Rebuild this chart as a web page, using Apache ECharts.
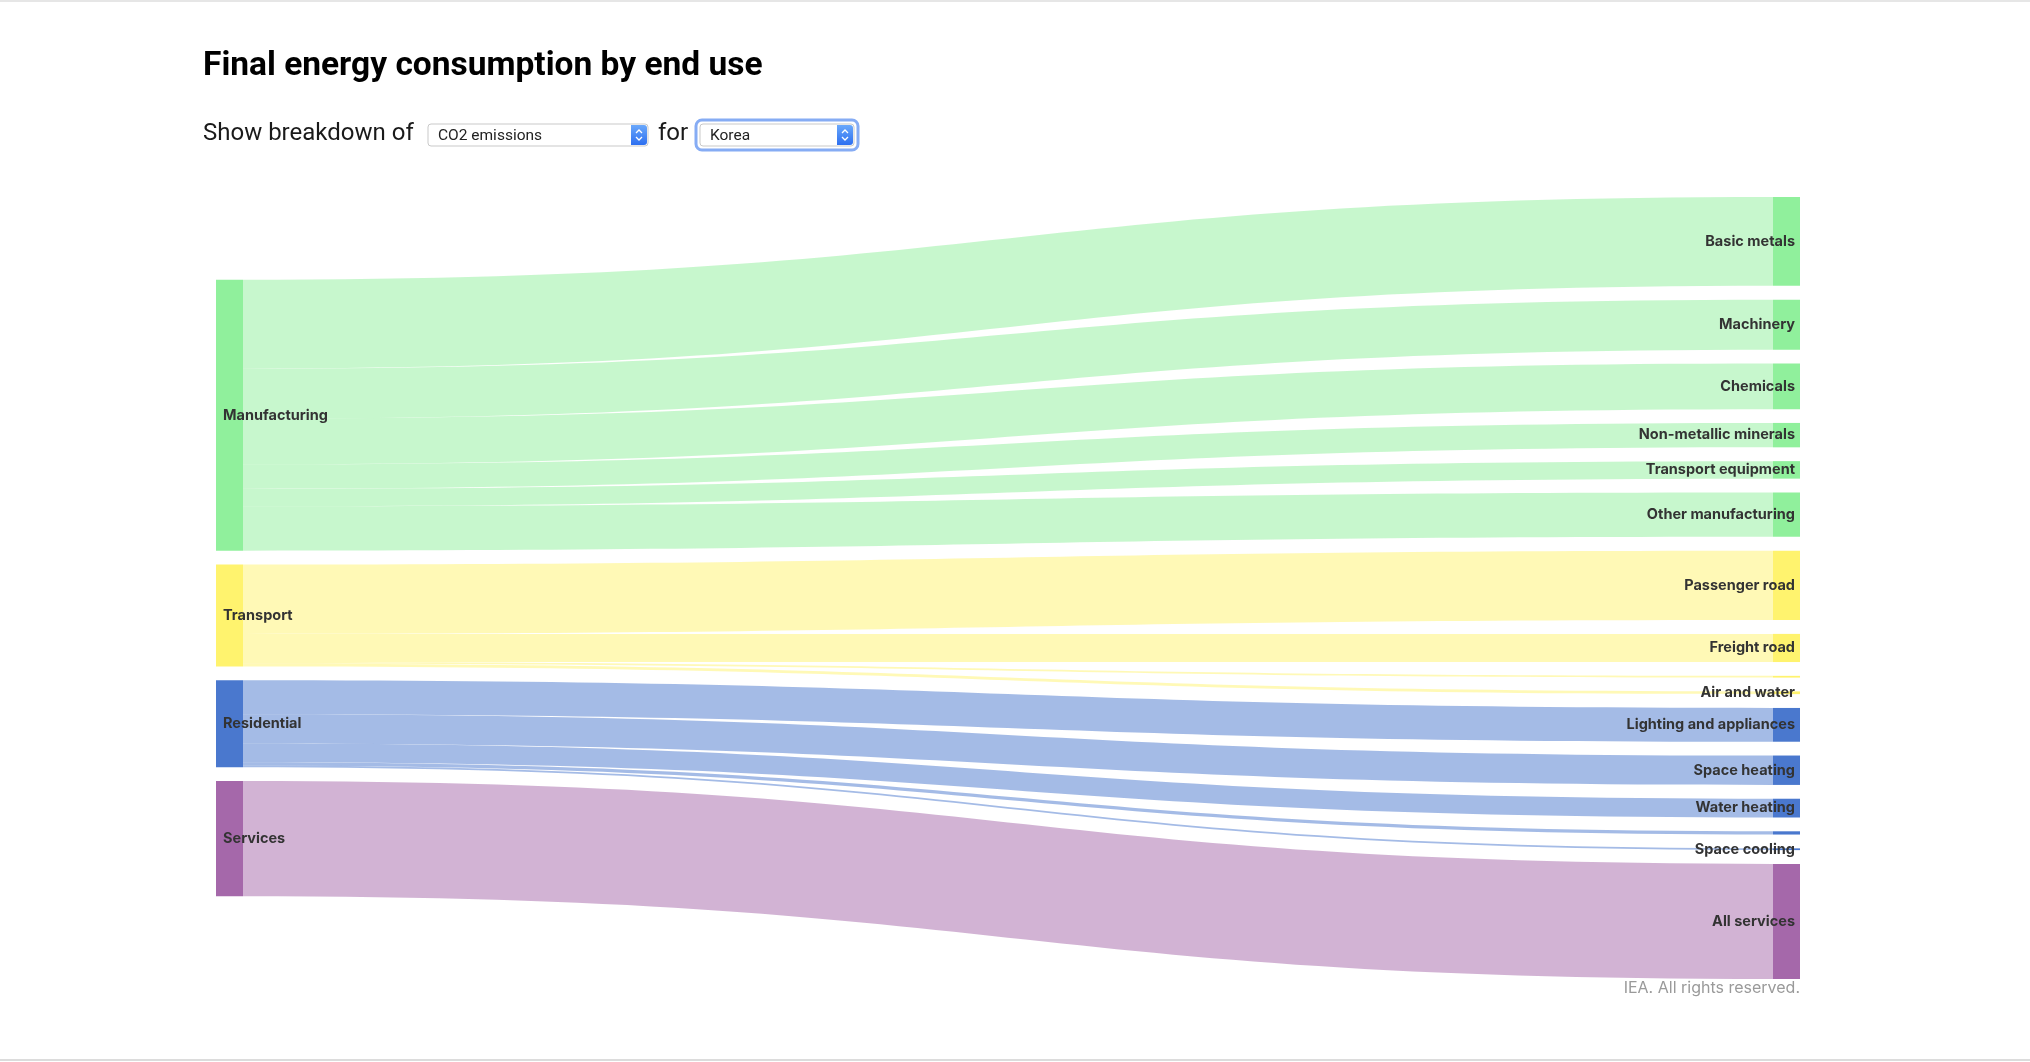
<!DOCTYPE html>
<html>
<head>
<meta charset="utf-8">
<script src="https://cdn.jsdelivr.net/npm/echarts@6/dist/echarts.min.js"></script>
<style>
html, body { margin: 0; padding: 0; background: #ffffff; }
#chart { width: 2030px; height: 1062px; }
</style>
</head>
<body>
<div id="chart"></div>
<script>
// ---- data (CO2 emissions by end use, Korea) ----
const sectors = ['Manufacturing', 'Transport', 'Residential', 'Services'];
const sectorColors = ['#90F09C', '#FFF36E', '#4A78CE', '#A568AA'];
const endUses = [
  'Basic metals', 'Machinery', 'Chemicals', 'Non-metallic minerals', 'Transport equipment', 'Other manufacturing',
  'Passenger road', 'Freight road', 'Rail', 'Air and water',
  'Lighting and appliances', 'Space heating', 'Water heating', 'Cooking', 'Space cooling',
  'All services'
];
const endUseSector = [
  'Manufacturing', 'Manufacturing', 'Manufacturing', 'Manufacturing', 'Manufacturing', 'Manufacturing',
  'Transport', 'Transport', 'Transport', 'Transport',
  'Residential', 'Residential', 'Residential', 'Residential', 'Residential',
  'Services'
];
const emissions = [71, 40, 36.5, 19.5, 14, 35.5, 55.5, 22.5, 1.4, 2.2, 27, 23.5, 15, 2.6, 1.4, 92];
const unlabeledEndUses = ['Rail', 'Cooking'];

const titleText = 'Final energy consumption by end use';
const breakdownText = 'Show breakdown of';
const measureText = 'CO2 emissions';
const forText = 'for';
const countryText = 'Korea';
const creditText = 'IEA. All rights reserved.';

// ---- layout ----
const W = 2030, H = 1062;
const L = { left: 216, right: 230, top: 197, bottom: 83, nodeWidth: 27, nodeGap: 13.8 };
const plotH = H - L.top - L.bottom;
const total = emissions.reduce((a, b) => a + b, 0);
const ky = (plotH - (endUses.length - 1) * L.nodeGap) / total;
// invisible spacer so the sector column is centred against the end-use column
const spacerValue = ((endUses.length - sectors.length) / 2 - 1) * L.nodeGap / ky;

const colorOf = {};
sectors.forEach((s, i) => { colorOf[s] = sectorColors[i]; });

const nodes = [{
  name: '__spacer', depth: 0, value: spacerValue,
  itemStyle: { color: 'rgba(0,0,0,0)', opacity: 0 },
  label: { show: false }, silent: true
}];
sectors.forEach(s => nodes.push({
  name: s, depth: 0, itemStyle: { color: colorOf[s] },
  label: { position: 'insideLeft', distance: 7 }
}));
endUses.forEach((u, i) => nodes.push({
  name: u, depth: 1, itemStyle: { color: colorOf[endUseSector[i]] },
  label: { show: unlabeledEndUses.indexOf(u) < 0, position: 'insideRight', distance: 5 }
}));
const links = endUses.map((u, i) => ({ source: endUseSector[i], target: u, value: emissions[i] }));

const labelFont = 'Inter, "Open Sans", sans-serif';
const uiFont = 'Roboto, "Liberation Sans", sans-serif';

function selectBox(x, y, w, h, text, focused) {
  const els = [];
  if (focused) {
    els.push({ type: 'rect', shape: { x: x - 4, y: y - 4, width: w + 8, height: h + 8, r: 6 },
      style: { fill: 'none', stroke: '#86acf4', lineWidth: 3 }, silent: true });
  }
  els.push({ type: 'rect', shape: { x: x, y: y, width: w, height: h, r: 3 },
    style: { fill: '#ffffff', stroke: '#c9c9c9', lineWidth: 1 }, silent: true });
  els.push({ type: 'rect', shape: { x: x + w - 17, y: y + 1, width: 16, height: h - 2, r: [0, 3, 3, 0] },
    style: { fill: new echarts.graphic.LinearGradient(0, 0, 0, 1, [
      { offset: 0, color: '#6aa8fb' }, { offset: 1, color: '#2d6ff0' }]) }, silent: true });
  const cx = x + w - 9, cy = y + h / 2;
  els.push({ type: 'polyline', shape: { points: [[cx - 3, cy - 2], [cx, cy - 5], [cx + 3, cy - 2]] },
    style: { stroke: '#ffffff', lineWidth: 1.3, fill: 'none' }, silent: true });
  els.push({ type: 'polyline', shape: { points: [[cx - 3, cy + 2], [cx, cy + 5], [cx + 3, cy + 2]] },
    style: { stroke: '#ffffff', lineWidth: 1.3, fill: 'none' }, silent: true });
  els.push({ type: 'text', x: x + 10, y: cy + 1, silent: true,
    style: { text: text, fill: '#222', font: '400 15.5px ' + uiFont, verticalAlign: 'middle', align: 'left' } });
  return els;
}

const graphics = [
  { type: 'rect', shape: { x: 0, y: 0, width: W, height: 2 }, style: { fill: '#e6e6e6' }, silent: true },
  { type: 'rect', shape: { x: 0, y: H - 3, width: W, height: 2 }, style: { fill: '#dcdcdc' }, silent: true },
  { type: 'text', x: 203, y: 67, silent: true,
    style: { text: titleText, fill: '#000', font: '700 33.5px ' + uiFont, verticalAlign: 'middle' } },
  { type: 'text', x: 203, y: 134, silent: true,
    style: { text: breakdownText, fill: '#1a1a1a', font: '400 24px ' + uiFont, verticalAlign: 'middle' } },
  { type: 'text', x: 658, y: 134, silent: true,
    style: { text: forText, fill: '#1a1a1a', font: '400 24px ' + uiFont, verticalAlign: 'middle' } },
  { type: 'text', x: 1800, y: 988, silent: true,
    style: { text: creditText, fill: '#9a9a9a', font: '400 16px ' + labelFont, verticalAlign: 'middle', align: 'right' } }
].concat(selectBox(428, 124, 220, 22, measureText, false))
 .concat(selectBox(700, 124, 154, 22, countryText, true));

const chart = echarts.init(document.getElementById('chart'), null, { renderer: 'canvas' });
chart.setOption({
  backgroundColor: '#ffffff',
  animation: false,
  graphic: graphics,
  series: [{
    type: 'sankey',
    left: L.left, right: L.right, top: L.top, bottom: L.bottom,
    nodeWidth: L.nodeWidth,
    nodeGap: L.nodeGap,
    nodeAlign: 'left',
    layoutIterations: 0,
    draggable: false,
    emphasis: { disabled: true },
    data: nodes,
    links: links,
    itemStyle: { borderWidth: 0 },
    lineStyle: { color: 'source', opacity: 0.5, curveness: 0.5 },
    label: { color: '#333333', fontFamily: labelFont, fontWeight: 700, fontSize: 14.5 }
  }]
});
</script>
</body>
</html>
